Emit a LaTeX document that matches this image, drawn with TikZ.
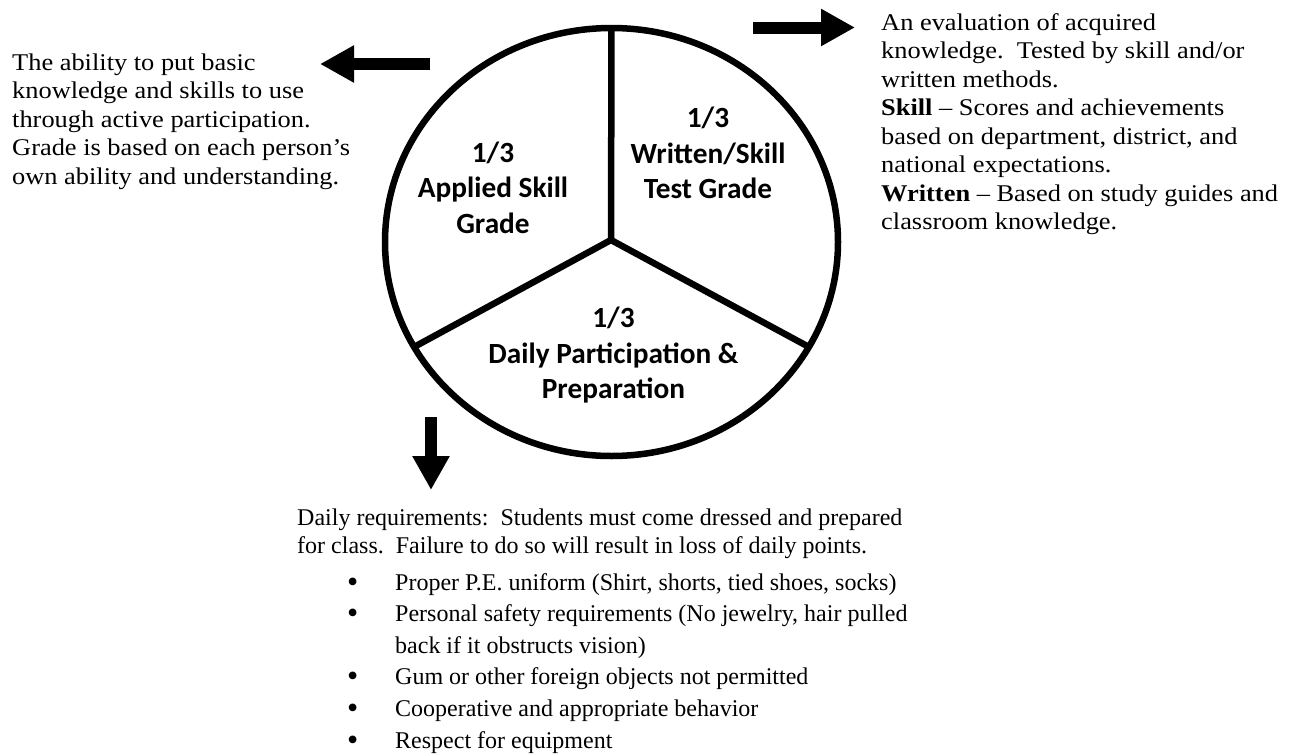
\documentclass[tikz,border=0pt]{standalone}
\usepackage{fontspec}
\setmainfont{Liberation Serif}
\newfontfamily\widerm[FakeStretch=1.1]{Liberation Serif}
\newfontfamily\calibri{Carlito}
\usetikzlibrary{shapes.geometric,arrows.meta}

\newcommand\listdot{\raisebox{-2pt}{\fontsize{32}{0}\selectfont\textbullet}}

\tikzset{
  blurb/.style={inner sep=0pt, anchor=base west, font=\fontsize{24}{28.5}\selectfont},
  wideblurb/.style={blurb, font=\widerm\fontsize{24}{28.5}\selectfont},
  slice/.style={inner sep=0pt, anchor=base, font=\calibri\bfseries\fontsize{29.3}{35.5}\selectfont},
  blockarrow/.style={line width=12pt, -{Triangle[length=34pt, width=35pt]}}
}

\begin{document}
\begin{tikzpicture}[x=1pt, y=-1pt]
  \useasboundingbox (0,0) rectangle (1293,755);

  % the grade pie
  \node[draw, ellipse, line width=6.5pt, minimum width=453pt, minimum height=428pt,
        inner sep=0pt, outer sep=0pt] (pie) at (611.5,242) {};
  \coordinate (hub) at (611,240);
  \draw[line width=6.5pt] (pie.208) -- (hub) -- (pie.332);
  \draw[line width=6.5pt] (hub) -- (pie.north);

  \node[slice] (applied) at (493,162) {\begin{tabular}[t]{@{}c@{}}1/3\\Applied Skill\\Grade\end{tabular}};
  \node[slice] (written) at (708,127.5) {\begin{tabular}[t]{@{}c@{}}1/3\\Written/Skill\\Test Grade\end{tabular}};
  \node[slice] (daily) at (613.5,327.5) {\begin{tabular}[t]{@{}c@{}}1/3\\Daily Participation \&\\Preparation\end{tabular}};

  % explanations
  \node[wideblurb] (appliedtext) at (12,70) {\begin{tabular}[t]{@{}l@{}}
    The ability to put basic\\
    knowledge and skills to use\\
    through active participation.\\
    Grade is based on each person’s\\
    own ability and understanding.\end{tabular}};
  \node[wideblurb] (writtentext) at (881,30) {\begin{tabular}[t]{@{}l@{}}
    An evaluation of acquired\\
    knowledge.\ \ Tested by skill and/or\\
    written methods.\\
    \textbf{Skill} – Scores and achievements\\
    based on department, district, and\\
    national expectations.\\
    \textbf{Written} – Based on study guides and\\
    classroom knowledge.\end{tabular}};
  \node[blurb] (dailytext) at (297,525) {\begin{tabular}[t]{@{}l@{}}
    Daily requirements:\ \ Students must come dressed and prepared\\
    for class.\ \ Failure to do so will result in loss of daily points.\end{tabular}};
  \node[blurb, font=\fontsize{24}{31.6}\selectfont] (dailylist) at (347,590) {\begin{tabular}[t]{@{}l@{\hspace{36.8pt}}l@{}}
    \listdot & Proper P.E. uniform (Shirt, shorts, tied shoes, socks)\\
    \listdot & Personal safety requirements (No jewelry, hair pulled\\
             & back if it obstructs vision)\\
    \listdot & Gum or other foreign objects not permitted\\
    \listdot & Cooperative and appropriate behavior\\
    \listdot & Respect for equipment\end{tabular}};

  % block arrows
  \coordinate (appliedfrom) at (430,64);
  \coordinate (appliedto) at (320,64);
  \coordinate (writtenfrom) at (753,27.5);
  \coordinate (writtento) at (855,27.5);
  \coordinate (dailyfrom) at (431,417);
  \coordinate (dailyto) at (431,490);
  \draw[blockarrow] (appliedfrom) -- (appliedto);
  \draw[blockarrow] (writtenfrom) -- (writtento);
  \draw[blockarrow] (dailyfrom) -- (dailyto);
\end{tikzpicture}
\end{document}
